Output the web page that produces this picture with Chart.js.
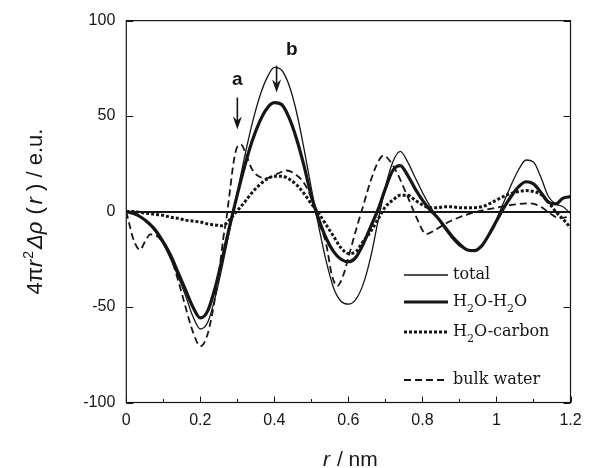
<!DOCTYPE html>
<html>
<head>
<meta charset="utf-8">
<script src="https://cdn.jsdelivr.net/npm/chart.js@4.4.1/dist/chart.umd.min.js"></script>
<style>
  html, body { margin: 0; padding: 0; background: #fff; }
  #wrap { width: 595px; height: 468px; }
</style>
</head>
<body>
<div id="wrap"><canvas id="rdf" width="595" height="468"></canvas></div>
<script>
// r / nm grid shared by total, H2O-H2O and H2O-carbon
const rGrid = [0, 0.02, 0.04, 0.06, 0.08, 0.10, 0.12, 0.14, 0.16, 0.18,
  0.20, 0.22, 0.24, 0.26, 0.28, 0.30, 0.32, 0.34, 0.36, 0.38,
  0.40, 0.42, 0.44, 0.46, 0.48, 0.50, 0.52, 0.54, 0.56, 0.58,
  0.60, 0.62, 0.64, 0.66, 0.68, 0.70, 0.72, 0.74, 0.76, 0.78,
  0.80, 0.82, 0.84, 0.86, 0.88, 0.90, 0.92, 0.94, 0.96, 0.98,
  1.00, 1.02, 1.04, 1.06, 1.08, 1.10, 1.12, 1.14, 1.16, 1.18, 1.20];

const total = [0, -1, -3, -6, -11, -17, -25, -34, -44, -55,
  -61.5, -58, -45, -28, -9, 10, 29, 46, 60, 70,
  75.5, 74, 66, 52, 33, 12, -8, -26, -40, -47,
  -48.5, -46, -38, -24, -5, 13, 26, 31.5, 26, 18,
  10, 3, -3, -9, -14, -18, -20, -20.5, -18, -12,
  -4, 5, 14, 22, 27, 26, 18, 8, 4, 2.5, -1];

const waterWater = [0, -1, -3, -6, -10, -16, -23, -32, -41, -50,
  -55.7, -52, -40, -24, -7, 9, 24, 37, 47, 54,
  57, 56, 49, 38, 24, 8, -4, -14, -21, -25,
  -26.3, -24, -17, -8, 1, 12, 21.5, 24, 19, 12,
  6, 1, -3, -8, -13, -17, -20, -20.5, -18, -12,
  -5, 2, 8, 13, 15.6, 14.5, 10, 5, 4, 7, 7.8];

const waterCarbon = [0, 0, -0.5, -1, -1.5, -2, -3, -3.5, -4.5, -5,
  -5.5, -6.5, -7, -7.5, -4, 0.5, 5, 10, 14, 17,
  18.5, 18.5, 17, 14, 9.5, 4, -1, -7, -13, -19,
  -22, -21, -15.6, -10.5, -4, 2.5, 6, 8.5, 8.5, 6,
  3.5, 2, 2, 2.5, 2.5, 2, 2, 2, 2.5, 4,
  6, 8, 9.5, 10.5, 11, 10.5, 9, 5, 0, -4, -8.5];

// bulk water has sharper features, read on its own grid
const bulkR = [0, 0.01, 0.02, 0.037, 0.05, 0.065, 0.08, 0.10, 0.12, 0.14,
  0.16, 0.18, 0.20, 0.22, 0.24, 0.253, 0.262, 0.271, 0.28, 0.29,
  0.30, 0.31, 0.325, 0.34, 0.36, 0.38, 0.40, 0.433, 0.46, 0.48,
  0.50, 0.52, 0.54, 0.555, 0.57, 0.585, 0.60, 0.62, 0.64, 0.66,
  0.68, 0.695, 0.71, 0.73, 0.758, 0.785, 0.81, 0.84, 0.87, 0.90,
  0.93, 0.96, 1.00, 1.04, 1.09, 1.12, 1.145, 1.17, 1.20];
const bulkWater = [0, -8, -15, -20, -16, -12, -12.5, -16.5, -24, -36,
  -50, -63, -70.5, -64, -45, -28, -14, -3, 11, 26,
  34, 35, 29, 22, 18.2, 17.5, 19, 21.5, 19, 15,
  7, -5.5, -17, -33, -39, -34, -24, -10, 3, 16,
  26, 29.4, 27, 20.8, 8.7, -3.5, -11.8, -9, -5.5, -3,
  -1, 0.5, 2, 3.5, 4.3, 2.5, -1, -3.5, -2.5];

const xMajor = [0, 0.2, 0.4, 0.6, 0.8, 1.0, 1.2];
const xMinor = [0.1, 0.3, 0.5, 0.7, 0.9, 1.1];
const yMajor = [-100, -50, 0, 50, 100];

const seriesNames = ["total", "H2O-H2O", "H2O-carbon", "bulk water"];

const INK = "#161616";
const SANS = "'Liberation Sans', Arial, sans-serif";
const SERIF = "'DejaVu Serif', serif";

function pts(xs, ys) {
  return xs.map((x, i) => ({ x: x, y: ys[i] }));
}

// draw a run of text pieces with different fonts / offsets
function drawRuns(ctx, runs, x, y) {
  let cx = x;
  runs.forEach(p => {
    ctx.font = p.font;
    ctx.fillText(p.t, cx, y + (p.dy || 0));
    cx += ctx.measureText(p.t).width + (p.gap || 0);
  });
  return cx - x;
}
function runsWidth(ctx, runs) {
  let w = 0;
  runs.forEach(p => { ctx.font = p.font; w += ctx.measureText(p.t).width + (p.gap || 0); });
  return w;
}

function arrow(ctx, x, y1, y2) {
  ctx.beginPath();
  ctx.moveTo(x, y1);
  ctx.lineTo(x, y2 - 6);
  ctx.lineWidth = 1.6;
  ctx.stroke();
  ctx.beginPath();
  ctx.moveTo(x, y2);
  ctx.lineTo(x - 4.5, y2 - 13);
  ctx.lineTo(x, y2 - 9);
  ctx.lineTo(x + 4.5, y2 - 13);
  ctx.closePath();
  ctx.fill();
}

const decor = {
  id: "decor",
  afterDraw(chart) {
    const ctx = chart.ctx;
    const ca = chart.chartArea;
    const xs = chart.scales.x, ys = chart.scales.y;
    ctx.save();
    ctx.strokeStyle = INK;
    ctx.fillStyle = INK;

    // frame
    ctx.lineWidth = 1.2;
    ctx.strokeRect(ca.left, ca.top, ca.right - ca.left, ca.bottom - ca.top);

    // inward ticks
    ctx.lineWidth = 1;
    ctx.beginPath();
    xMajor.forEach(v => {
      const px = Math.round(xs.getPixelForValue(v)) + 0.5;
      ctx.moveTo(px, ca.bottom); ctx.lineTo(px, ca.bottom - 6);
    });
    xMinor.forEach(v => {
      const px = Math.round(xs.getPixelForValue(v)) + 0.5;
      ctx.moveTo(px, ca.bottom); ctx.lineTo(px, ca.bottom - 3.5);
    });
    yMajor.forEach(v => {
      const py = Math.round(ys.getPixelForValue(v)) + 0.5;
      ctx.moveTo(ca.left, py); ctx.lineTo(ca.left + 7, py);
      ctx.moveTo(ca.right, py); ctx.lineTo(ca.right - 7, py);
    });
    ctx.stroke();

    // a / b markers
    ctx.font = "bold 19px " + SANS;
    ctx.textAlign = "center";
    ctx.textBaseline = "middle";
    ctx.fillText("a", xs.getPixelForValue(0.30), ys.getPixelForValue(69));
    ctx.fillText("b", xs.getPixelForValue(0.447), ys.getPixelForValue(84.8));
    arrow(ctx, xs.getPixelForValue(0.30), ys.getPixelForValue(59.7), ys.getPixelForValue(43));
    arrow(ctx, xs.getPixelForValue(0.406), ys.getPixelForValue(76.4), ys.getPixelForValue(62.3));

    // legend
    const lx1 = 404, lx2 = 448, tx = 453;
    const rows = [
      { y: 275, w: 1.3, dash: [], label: [{ t: "total", font: "16px " + SERIF }] },
      { y: 302, w: 3.2, dash: [], label: [
        { t: "H", font: "16px " + SERIF }, { t: "2", font: "11px " + SERIF, dy: 7 },
        { t: "O-H", font: "16px " + SERIF }, { t: "2", font: "11px " + SERIF, dy: 7 },
        { t: "O", font: "16px " + SERIF }] },
      { y: 332, w: 3, dash: [3, 2], label: [
        { t: "H", font: "16px " + SERIF }, { t: "2", font: "11px " + SERIF, dy: 7 },
        { t: "O-carbon", font: "16px " + SERIF }] },
      { y: 380, w: 1.8, dash: [7, 4], label: [{ t: "bulk water", font: "16px " + SERIF }] }
    ];
    ctx.textAlign = "left";
    ctx.textBaseline = "middle";
    rows.forEach(r => {
      ctx.beginPath();
      ctx.setLineDash(r.dash);
      ctx.lineWidth = r.w;
      ctx.moveTo(lx1, r.y); ctx.lineTo(lx2, r.y);
      ctx.stroke();
      ctx.setLineDash([]);
      drawRuns(ctx, r.label, tx, r.y);
    });

    // axis titles
    ctx.textBaseline = "alphabetic";
    const xt = [
      { t: "r", font: "italic 21px " + SANS, gap: 1 },
      { t: " / nm", font: "21px " + SANS }
    ];
    drawRuns(ctx, xt, (ca.left + ca.right) / 2 + 2 - runsWidth(ctx, xt) / 2, 466);

    const yt = [
      { t: "4\u03c0", font: "22px " + SANS },
      { t: "r", font: "italic 22px " + SANS, gap: 1 },
      { t: "2", font: "14px " + SANS, dy: -9, gap: 2 },
      { t: "\u0394\u03c1", font: "italic 22px " + SANS, gap: 7 },
      { t: "(", font: "22px " + SANS, gap: 3 },
      { t: "r", font: "italic 22px " + SANS, gap: 6 },
      { t: ") / e.u.", font: "22px " + SANS }
    ];
    ctx.translate(42, (ca.top + ca.bottom) / 2);
    ctx.rotate(-Math.PI / 2);
    drawRuns(ctx, yt, -runsWidth(ctx, yt) / 2, 0);
    ctx.restore();
  }
};

const lineBase = { pointRadius: 0, fill: false, borderColor: INK, cubicInterpolationMode: "monotone" };

new Chart(document.getElementById("rdf").getContext("2d"), {
  type: "line",
  data: {
    datasets: [
      Object.assign({ label: seriesNames[0], data: pts(rGrid, total), borderWidth: 1.3 }, lineBase),
      Object.assign({ label: seriesNames[1], data: pts(rGrid, waterWater), borderWidth: 3.2 }, lineBase),
      Object.assign({ label: seriesNames[2], data: pts(rGrid, waterCarbon), borderWidth: 3, borderDash: [3, 2] }, lineBase),
      Object.assign({ label: seriesNames[3], data: pts(bulkR, bulkWater), borderWidth: 1.8, borderDash: [7, 4] }, lineBase)
    ]
  },
  options: {
    responsive: false,
    animation: false,
    devicePixelRatio: 1,
    layout: { padding: { left: 0, right: 24.5, top: 17.5, bottom: 0 } },
    plugins: { legend: { display: false }, tooltip: { enabled: false } },
    scales: {
      x: {
        type: "linear", min: 0, max: 1.2,
        afterBuildTicks: s => { s.ticks = xMajor.map(v => ({ value: v })); },
        afterFit: s => { s.height = 65.5; },
        ticks: {
          color: INK, font: { family: SANS, size: 16 }, padding: 8, maxRotation: 0,
          callback: v => String(+v.toFixed(1))
        },
        grid: { display: false, drawTicks: false },
        border: { display: false }
      },
      y: {
        min: -100, max: 100,
        afterBuildTicks: s => { s.ticks = yMajor.map(v => ({ value: v })); },
        afterFit: s => { s.width = 126.3; },
        ticks: { color: INK, font: { family: SANS, size: 16 }, padding: 11 },
        grid: {
          drawTicks: false,
          lineWidth: 2,
          color: c => (c.tick && c.tick.value === 0 ? INK : "rgba(0,0,0,0)")
        },
        border: { display: false }
      }
    }
  },
  plugins: [decor]
});
</script>
</body>
</html>
